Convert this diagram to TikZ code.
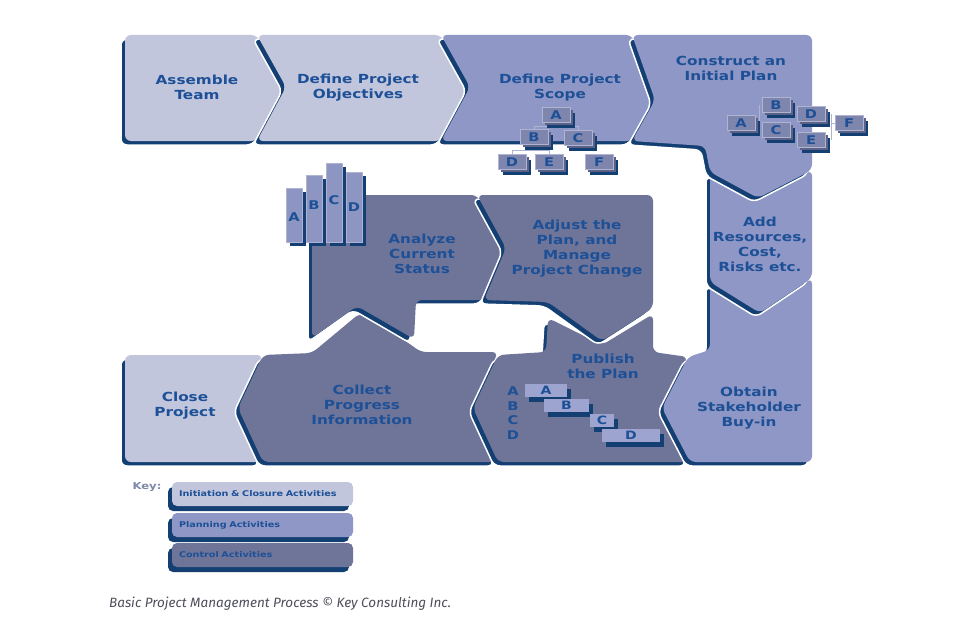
\documentclass[tikz,border=0pt]{standalone}
\usepackage{fontspec}
\usetikzlibrary{shadows}
\newfontfamily\lbl[FakeStretch=1.22]{DejaVu Sans}
\newfontfamily\capfont{Fira Sans}
\definecolor{initc}{HTML}{C1C6DD}
\definecolor{planc}{HTML}{8E97C5}
\definecolor{ctrlc}{HTML}{6F7499}
\definecolor{navyc}{HTML}{143F73}
\definecolor{txtc}{HTML}{1D5096}
\definecolor{sboxc}{HTML}{7F86AE}
\definecolor{sboxsh}{HTML}{5C6188}
\definecolor{barc}{HTML}{8D95C3}
\definecolor{pbarc}{HTML}{9CA4CF}
\definecolor{keyc}{HTML}{7E88A8}
\definecolor{capc}{HTML}{4F4F5C}
\definecolor{treec}{HTML}{AEB4D2}
\newcommand\slab[2]{%
  \path[fill=navyc,draw=white,line width=1.5pt,rounded corners=6pt,shift={(-4,4)}] #2;
  \path[fill=#1,rounded corners=6pt] #2;}
\begin{document}
\begin{tikzpicture}[x=1pt,y=-1pt,
  lab/.style={align=center,text=txtc,font=\lbl\bfseries\fontsize{12.5}{15}\selectfont,inner sep=0pt},
  sbox/.style={fill=sboxc,draw=treec,line width=0.4pt,minimum width=28pt,minimum height=15pt,inner sep=0pt,
     text=txtc,font=\lbl\bfseries\fontsize{12}{12}\selectfont,
     general shadow={fill=navyc,shadow xshift=5pt,shadow yshift=-5pt},
     general shadow={fill=sboxsh,shadow xshift=2.5pt,shadow yshift=-2.5pt}},
  vbar/.style={fill=barc,draw=treec,line width=0.4pt,minimum width=16pt,inner sep=0pt,anchor=south west,
     general shadow={fill=navyc,shadow xshift=4pt,shadow yshift=-4pt}},
  pbar/.style={fill=pbarc,minimum height=13pt,inner sep=0pt,text=txtc,font=\lbl\bfseries\fontsize{11.5}{11.5}\selectfont,
     general shadow={fill=navyc,shadow xshift=4pt,shadow yshift=-5pt}},
  letter/.style={text=txtc,font=\lbl\bfseries\fontsize{12}{12}\selectfont,inner sep=0pt},
  keybox/.style={rounded corners=5pt,minimum width=181pt,minimum height=24pt,text width=167pt,align=left,inner sep=0pt,
     text=txtc,font=\lbl\bfseries\fontsize{7.9}{9}\selectfont,
     general shadow={fill=navyc,shadow xshift=-4pt,shadow yshift=-5pt}},
  tree/.style={draw=treec,line width=0.6pt}]
\path[fill=white] (0,0) rectangle (965,618);
\useasboundingbox (0,0) rectangle (965,618);

% ---- bottom row and middle (drawn first) ----
\slab{initc}{(125,355) -- (263,355) -- (238,408) -- (263,462) -- (125,462) -- cycle}
\slab{ctrlc}{(263,355) -- (312,353) -- (360,313) -- (413,346) -- (420,352) -- (498,352) -- (473,408) -- (498,462) -- (263,462) -- (238,408) -- cycle}
\slab{ctrlc}{(548,318) -- (602,345) -- (653,314) -- (653,352) -- (688,357) -- (662,408) -- (690,462) -- (498,462) -- (473,408) -- (498,355) -- (546,352) -- cycle}
\slab{planc}{(710,282) -- (760,313) -- (812,278) -- (812,462) -- (690,462) -- (662,408) -- (688,357) -- (710,350) -- cycle}
\slab{ctrlc}{(312,195) -- (477,195) -- (506,248) -- (484,300) -- (416,300) -- (414,339) -- (357,306) -- (312,338) -- cycle}
\slab{ctrlc}{(477,195) -- (653,195) -- (653,308) -- (602,341) -- (548,302) -- (484,300) -- (506,248) -- cycle}
\slab{planc}{(710,172) -- (758,198) -- (812,170) -- (812,278) -- (760,313) -- (710,282) -- cycle}
% ---- top row ----
\slab{initc}{(125,35) -- (257,35) -- (286,87) -- (257,141) -- (125,141) -- cycle}
\slab{initc}{(257,35) -- (441,35) -- (470,87) -- (441,141) -- (257,141) -- (286,87) -- cycle}
\slab{planc}{(441,35) -- (632,35) -- (655,100) -- (632,141) -- (441,141) -- (470,87) -- cycle}
\slab{planc}{(632,35) -- (812,35) -- (812,170) -- (758,198) -- (710,172) -- (705,146) -- (632,141) -- (655,100) -- cycle}

% ---- labels ----
\node[lab] (tAssemble) at (197,87) {Assemble\\Team};
\node[lab] (tObj) at (358,88) {Define Project\\Objectives};
\node[lab] (tScope) at (560,88) {Define Project\\Scope};
\node[lab] (tConstruct) at (731,68) {Construct an\\Initial Plan};
\node[lab] (tAdd) at (760,244) {Add\\Resources,\\Cost,\\Risks etc.};
\node[lab] (tAnalyze) at (422,254) {Analyze\\Current\\Status};
\node[lab] (tAdjust) at (577,249) {Adjust the\\Plan, and\\Manage\\Project Change};
\node[lab] (tPublish) at (603,366) {Publish\\the Plan};
\node[lab] (tObtain) at (749,408) {Obtain\\Stakeholder\\Buy-in};
\node[lab] (tClose) at (185,406) {Close\\Project};
\node[lab] (tCollect) at (362,405) {Collect\\Progress\\Information};

% ---- scope tree ----
\draw[tree] (556,122) -- (556,126) -| (534,131);
\draw[tree] (556,126) -| (578,131);
\draw[tree] (534,144) -- (534,150) -| (512,155);
\draw[tree] (534,150) -| (549,155);
\node[sbox] (sA) at (556,115) {A};
\node[sbox] (sB) at (534,137) {B};
\node[sbox] (sC) at (578,138) {C};
\node[sbox] (sD) at (512,162) {D};
\node[sbox] (sE) at (549,162) {E};
\node[sbox] (sF) at (599,162) {F};

% ---- construct tree ----
\draw[tree] (755,123) -- (759,123);
\draw[tree] (759,105) -- (759,130);
\draw[tree] (831,114) -- (831,140);
\draw[tree] (831,123) -- (835,123);
\node[sbox] (cA) at (741,123) {A};
\node[sbox] (cB) at (776,105) {B};
\node[sbox] (cC) at (776,130) {C};
\node[sbox] (cD) at (811,114) {D};
\node[sbox] (cE) at (811,140) {E};
\node[sbox] (cF) at (849,123) {F};

% ---- analyze bars ----
\node[vbar,minimum height=54pt] (bA) at (286,242) {};
\node[vbar,minimum height=67pt] (bB) at (306,242) {};
\node[vbar,minimum height=79pt] (bC) at (326,242) {};
\node[vbar,minimum height=70pt] (bD) at (346,242) {};
\node[letter] (lA) at (294,217) {A};
\node[letter] (lB) at (314,205) {B};
\node[letter] (lC) at (334,200) {C};
\node[letter] (lD) at (354,207) {D};

% ---- publish bars ----
\node[letter] (pa) at (513,391) {A};
\node[letter] (pb) at (513,406) {B};
\node[letter] (pc) at (513,420) {C};
\node[letter] (pd) at (513,435) {D};
\node[pbar,minimum width=42pt] (pA) at (546,390.5) {A};
\node[pbar,minimum width=45pt] (pB) at (566.5,405.5) {B};
\node[pbar,minimum width=24pt] (pC) at (602,420.5) {C};
\node[pbar,minimum width=58pt] (pD) at (631,435) {D};

% ---- key ----
\node[text=keyc,font=\lbl\bfseries\fontsize{9.5}{10}\selectfont,inner sep=0pt] (key) at (147,487) {Key:};
\node[keybox,fill=initc] (k1) at (262.5,494) {Initiation \& Closure Activities};
\node[keybox,fill=planc] (k2) at (262.5,525) {Planning Activities};
\node[keybox,fill=ctrlc] (k3) at (262.5,555) {Control Activities};

% ---- caption ----
\node[anchor=west,inner sep=0pt,text=capc,font=\capfont\itshape\fontsize{13.5}{14}\selectfont] (cap) at (109,604)
  {Basic Project Management Process \textcopyright{} Key Consulting Inc.};
\end{tikzpicture}
\end{document}
